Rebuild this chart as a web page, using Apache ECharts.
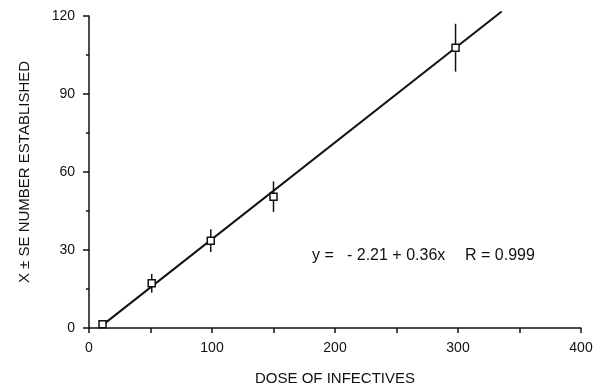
<!DOCTYPE html>
<html>
<head>
<meta charset="utf-8">
<script src="https://cdn.jsdelivr.net/npm/echarts@6/dist/echarts.min.js"></script>
<style>
  html, body { margin: 0; padding: 0; background: #fff; }
  #chart { width: 607px; height: 388px; }
</style>
</head>
<body>
<div id="chart"></div>
<script>
// dose vs. mean number established, with standard error
const doses = [11, 51, 99, 150, 298]
const means = [1.4, 17.2, 33.6, 50.5, 107.8]
const errors = [1.2, 3.6, 4.4, 5.9, 9.2]
// fitted line endpoints as drawn
const fitLine = [[12, 1.5], [335.5, 121.7]]
const xTicks = [0, 100, 200, 300, 400]
const yTicks = [0, 30, 60, 90, 120]
const equationParts = ['y =', '- 2.21 + 0.36x', 'R = 0.999']

const chart = echarts.init(document.getElementById('chart'))
const font = 'Liberation Sans, Arial, sans-serif'

const points = doses.map((d, i) => [d, means[i]])
const bars = doses.map((d, i) => [d, means[i] - errors[i], means[i] + errors[i]])

const eqLeft = [312, 347, 465]

const option = {
  animation: false,
  grid: { left: 89, right: 26, top: 16, bottom: 60, outerBoundsMode: 'none' },
  xAxis: {
    type: 'value',
    min: xTicks[0],
    max: xTicks[xTicks.length - 1],
    interval: 100,
    name: 'DOSE OF INFECTIVES',
    nameLocation: 'middle',
    nameGap: 43,
    nameTextStyle: { color: '#111', fontFamily: font, fontSize: 15 },
    axisLine: { lineStyle: { color: '#111', width: 1.5 } },
    axisTick: { inside: false, length: 5, lineStyle: { color: '#111', width: 1.5 } },
    minorTick: { show: true, splitNumber: 2, length: 5, lineStyle: { color: '#111', width: 1.5 } },
    axisLabel: { color: '#111', fontFamily: font, fontSize: 14, margin: 13 },
    splitLine: { show: false }
  },
  yAxis: {
    type: 'value',
    min: yTicks[0],
    max: yTicks[yTicks.length - 1],
    interval: 30,
    name: 'X \u00B1 SE NUMBER ESTABLISHED',
    nameLocation: 'middle',
    nameGap: 57,
    nameTextStyle: { color: '#111', fontFamily: font, fontSize: 15 },
    axisLine: { lineStyle: { color: '#111', width: 1.5 } },
    axisTick: { inside: false, length: 6, lineStyle: { color: '#111', width: 1.5 } },
    minorTick: { show: true, splitNumber: 2, length: 3, lineStyle: { color: '#111', width: 1.5 } },
    axisLabel: { color: '#111', fontFamily: font, fontSize: 14, margin: 14 },
    splitLine: { show: false }
  },
  graphic: equationParts.map((t, i) => ({
    type: 'text',
    left: eqLeft[i],
    top: 248,
    style: { text: t, fill: '#111', font: '16px ' + font }
  })),
  series: [
    {
      type: 'line',
      data: fitLine,
      clip: false,
      symbol: 'none',
      lineStyle: { color: '#111', width: 2 },
      z: 2
    },
    {
      type: 'custom',
      data: bars,
      clip: false,
      renderItem: (params, api) => {
        const x = api.value(0)
        const lo = api.coord([x, api.value(1)])
        const hi = api.coord([x, api.value(2)])
        return {
          type: 'line',
          shape: { x1: lo[0], y1: lo[1], x2: hi[0], y2: hi[1] },
          style: { stroke: '#111', lineWidth: 1.5 }
        }
      },
      z: 3
    },
    {
      type: 'scatter',
      data: points,
      symbol: 'rect',
      symbolSize: 7,
      itemStyle: { color: '#fff', borderColor: '#111', borderWidth: 1.5, opacity: 1 },
      z: 4
    }
  ]
}

chart.setOption(option)
</script>
</body>
</html>
